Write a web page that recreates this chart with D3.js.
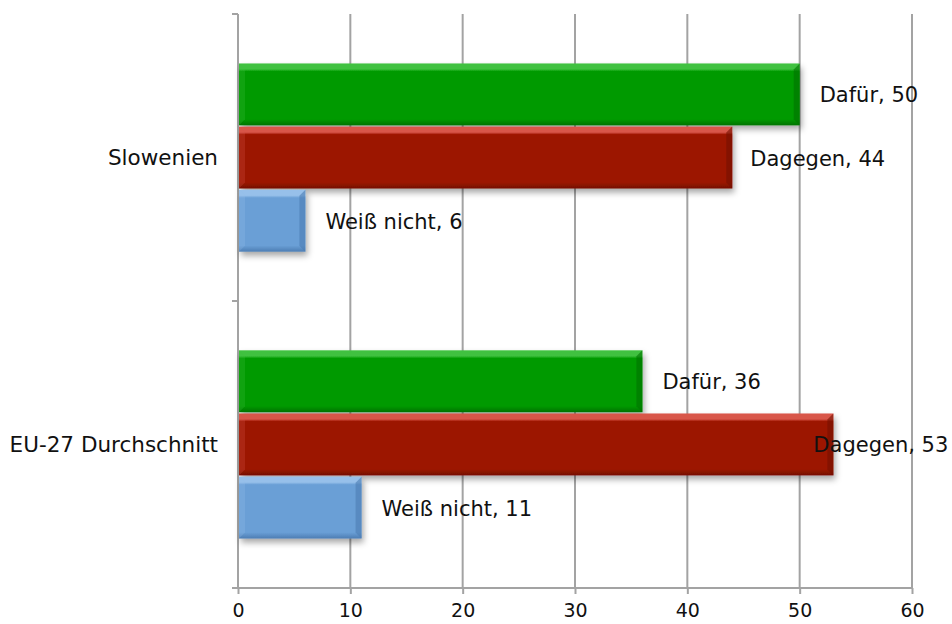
<!DOCTYPE html>
<html><head><meta charset="utf-8">
<script src="https://cdn.jsdelivr.net/npm/d3@7"></script>
<style>
body{margin:0;background:#fff;}
svg{display:block;font-family:"DejaVu Sans",Verdana,sans-serif;}
</style></head>
<body><div id="chart"></div>
<script>
const categories = ["Slowenien", "EU-27 Durchschnitt"];
const seriesNames = ["Dafür", "Dagegen", "Weiß nicht"];
const dafuer = [50, 36];
const dagegen = [44, 53];
const weissNicht = [6, 11];
const xTicks = [0, 10, 20, 30, 40, 50, 60];

const W = 952, H = 624;
const margin = {left: 238, right: 40, top: 14, bottom: 36};
const svg = d3.select("#chart").append("svg").attr("width", W).attr("height", H);

const x = d3.scaleLinear().domain([0, 60]).range([margin.left, W - margin.right]);
const y0 = d3.scaleBand().domain(categories).range([margin.top, H - margin.bottom]).paddingInner(0.335).paddingOuter(0.168);
const y1 = d3.scaleBand().domain(seriesNames).range([0, y0.bandwidth()]).padding(0.02);

const colors = {
  "Dafür": {base: "#009a00", light: "#3fc13f", dark: "#007300"},
  "Dagegen": {base: "#9c1400", light: "#d8564a", dark: "#751000"},
  "Weiß nicht": {base: "#6a9fd6", light: "#97c0ea", dark: "#4c7db3"}
};

const defs = svg.append("defs");
const f = defs.append("filter").attr("id", "sh").attr("x", "-10%").attr("y", "-20%").attr("width", "130%").attr("height", "160%");
f.append("feDropShadow").attr("dx", 2).attr("dy", 4).attr("stdDeviation", 3).attr("flood-color", "#000").attr("flood-opacity", 0.35);
seriesNames.forEach((s, i) => {
  const c = colors[s];
  const g = defs.append("linearGradient").attr("id", "g" + i).attr("x1", 0).attr("y1", 0).attr("x2", 0).attr("y2", 1);
  g.append("stop").attr("offset", "0%").attr("stop-color", c.light);
  g.append("stop").attr("offset", "9%").attr("stop-color", c.light);
  g.append("stop").attr("offset", "13%").attr("stop-color", c.base);
  g.append("stop").attr("offset", "90%").attr("stop-color", c.base);
  g.append("stop").attr("offset", "100%").attr("stop-color", c.dark);
});

const gridColor = "#a3a3a3";
const yTop = margin.top, yBot = H - margin.bottom;

// gridlines
svg.append("g").selectAll("line").data(xTicks.slice(1)).join("line")
  .attr("x1", d => x(d)).attr("x2", d => x(d)).attr("y1", yTop).attr("y2", yBot)
  .attr("stroke", gridColor).attr("stroke-width", 2);

// x axis
const xAxis = svg.append("g").attr("transform", `translate(0,${yBot})`)
  .call(d3.axisBottom(x).tickValues(xTicks).tickSize(6).tickPadding(10).tickFormat(d3.format("d")));
xAxis.select(".domain").attr("d", `M${x(0) - 6},0H${x(60)}`).attr("stroke", gridColor).attr("stroke-width", 2);
xAxis.selectAll(".tick line").attr("stroke", gridColor).attr("stroke-width", 2);
xAxis.selectAll(".tick text").attr("font-size", 19).attr("fill", "#111").attr("font-family", "DejaVu Sans");

// y axis
const yAxisG = svg.append("g");
yAxisG.append("line").attr("x1", x(0)).attr("x2", x(0)).attr("y1", yTop).attr("y2", yBot).attr("stroke", gridColor).attr("stroke-width", 2);
const yEdges = [yTop].concat(categories.map(c => y0(c) + y0.bandwidth() + y0.step() * y0.paddingInner() / 2).slice(0, -1)).concat([yBot]);
yAxisG.selectAll("line.t").data(yEdges).join("line").attr("class", "t")
  .attr("x1", x(0) - 6).attr("x2", x(0)).attr("y1", d => d).attr("y2", d => d)
  .attr("stroke", gridColor).attr("stroke-width", 2);
yAxisG.selectAll("text").data(categories).join("text")
  .attr("x", x(0) - 20).attr("y", d => y0(d) + y0.bandwidth() / 2)
  .attr("text-anchor", "end").attr("dominant-baseline", "central")
  .attr("font-size", 21.5).attr("fill", "#111").text(d => d);

// bars
const seriesVals = [dafuer, dagegen, weissNicht];
const rows = [];
categories.forEach((c, ci) => seriesNames.forEach((s, si) => rows.push({c, s, si, v: seriesVals[si][ci]})));

const barG = svg.append("g");
rows.forEach(r => {
  const col = colors[r.s];
  const bx = x(0) + 1, by = y0(r.c) + y1(r.s), bw = x(r.v) - x(0) - 1, bh = y1.bandwidth();
  const g = barG.append("g");
  g.append("rect").attr("x", bx).attr("y", by).attr("width", bw).attr("height", bh)
    .attr("fill", `url(#g${r.si})`).attr("filter", "url(#sh)");
  const b = 6;
  g.append("path").attr("d", `M${bx + bw},${by} L${bx + bw},${by + bh} L${bx + bw - b},${by + bh - b} L${bx + bw - b},${by + b} Z`)
    .attr("fill", col.dark).attr("opacity", 0.6);
  g.append("path").attr("d", `M${bx},${by} L${bx + b},${by + b} L${bx + b},${by + bh - b} L${bx},${by + bh} Z`)
    .attr("fill", col.light).attr("opacity", 0.25);
});

// labels
const labelDx = {"Slowenien|Dagegen": 18, "EU-27 Durchschnitt|Dagegen": -20};
svg.append("g").selectAll("text").data(rows).join("text")
  .attr("x", d => x(d.v) + (labelDx[d.c + "|" + d.s] ?? 20))
  .attr("y", d => y0(d.c) + y1(d.s) + y1.bandwidth() / 2 + 1)
  .attr("dominant-baseline", "central").attr("font-size", 21).attr("fill", "#111")
  .text(d => `${d.s}, ${d.v}`);
</script></body></html>
